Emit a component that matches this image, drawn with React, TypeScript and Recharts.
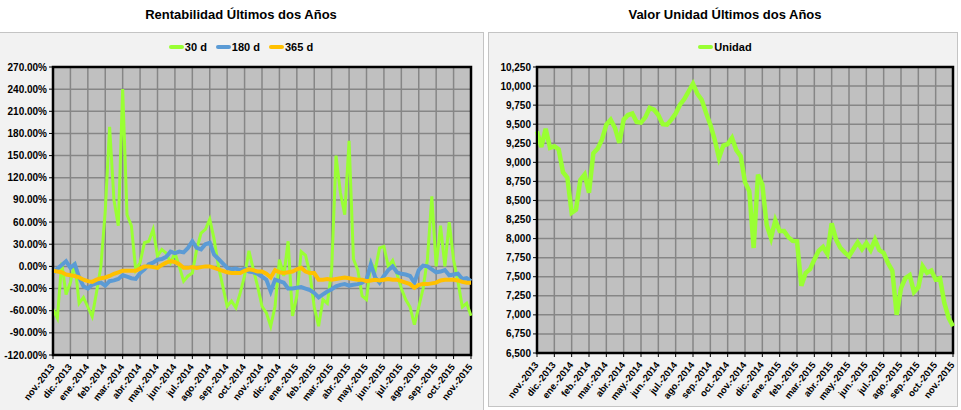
import React from "react";
import {
  LineChart,
  Line,
  XAxis,
  YAxis,
  CartesianGrid,
  ReferenceArea,
} from "recharts";

// ---------- DATA ----------
const monthLabels = [
  "nov.-2013", "dic.-2013", "ene.-2014", "feb.-2014", "mar.-2014", "abr.-2014",
  "may.-2014", "jun.-2014", "jul.-2014", "ago.-2014", "sep.-2014", "oct.-2014",
  "nov.-2014", "dic.-2014", "ene.-2015", "feb.-2015", "mar.-2015", "abr.-2015",
  "may.-2015", "jun.-2015", "jul.-2015", "ago.-2015", "sep.-2015", "oct.-2015",
  "nov.-2015",
];

// samples are taken 4 times per month (weekly), starting nov-2013
const SAMPLES_PER_MONTH = 4;

// Rentabilidad 30 d (%)
const rent30 = [
  -58, -70, 5, -38, -22, 5, -50, -42,
  -55, -68, -35, 0, 75, 189, 90, 55,
  240, 70, 55, -5, 5, 32, 34, 50,
  14, 23, 18, 5, 18, 0, -20, -13,
  -9, 23, 45, 50, 64, 37, 0, -27,
  -54, -47, -56, -36, -13, 21, -4, -27,
  -54, -63, -81, -54, 9, -13, 34, -67,
  -40, 20, 15, -10, -55, -81, -45, -50,
  -5, 150, 100, 70, 170, 10, -5, -40,
  -45, 5, -5, 25, 27, 0, 8, -10,
  -30, -45, -55, -79, -55, -30, 10, 95,
  0, 55, 0, 60, 9, -20, -55, -50,
  -67,
];

// Rentabilidad 180 d (%)
const rent180 = [
  -9, -3, 2, 7, -2, 3, -15, -27,
  -30, -25, -23, -22, -26, -20, -19, -17,
  -12, -14, -16, -17, -9, -4, 3, 5,
  9, 10, 13, 20, 18, 20, 19, 25,
  34, 25, 23, 30, 32, 16, 10, 4,
  -2, -4, -3, -5, -3, -7, -8, -10,
  -14, -18, -34, -18, -20, -22, -30, -30,
  -29, -28, -30, -32, -36, -42, -38, -34,
  -31, -27, -25, -24, -26, -25, -24, -22,
  -18, 3, -15, -22, -13, -5, 0, -8,
  -10, -11, -13, -22, -5, 1, 0, -4,
  -8, -7, -5, -12, -11, -10, -17, -16,
  -20,
];

// Rentabilidad 365 d (%)
const rent365 = [
  -6, -7, -8, -11, -12, -13, -15, -18,
  -20, -21, -18, -16, -15, -13, -10, -8,
  -6, -6, -6, -6, -3, 0, 0, -1,
  -2, 2, 5, 7, 6, 3, -2, -2,
  -1, -2, -1, 0, 0, -2, -4, -6,
  -8, -9, -9, -9, -6, -4, -5, -7,
  -7, -10, -15, -5, -8, -9, -8, -7,
  -4, -2, -7, -9, -9, -18, -18, -17,
  -18, -17, -16, -15, -16, -17, -18, -18,
  -20, -19, -18, -19, -18, -17, -18, -18,
  -20, -22, -24, -29, -25, -24, -24, -23,
  -22, -19, -18, -18, -18, -19, -21, -22,
  -22,
];

// Valor Unidad
const unidad = [
  9407, 9200, 9440, 9190, 9210, 9170, 8870, 8800,
  8340, 8380, 8770, 8840, 8600, 9120, 9180, 9300,
  9494, 9560, 9450, 9254, 9560, 9620, 9640, 9530,
  9520, 9590, 9713, 9690, 9620, 9500, 9494, 9560,
  9640, 9756, 9830, 9930, 10031, 9900, 9820, 9650,
  9494, 9300, 9057, 9220, 9240, 9320, 9160, 9080,
  8740, 8620, 7877, 8838, 8707, 8180, 8008, 8240,
  8100, 8100, 8020, 7970, 7964, 7380, 7550, 7600,
  7724, 7840, 7890, 7800, 8200, 7990, 7880, 7820,
  7768, 7860, 7950, 7860, 7942, 7850, 7986, 7850,
  7811, 7680, 7580, 7000, 7350, 7480, 7520, 7300,
  7360, 7637, 7550, 7580, 7462, 7480, 7156, 6960,
  6850,
];

const rentTicks = [-120, -90, -60, -30, 0, 30, 60, 90, 120, 150, 180, 210, 240, 270];
const unidadTicks = [
  6500, 6750, 7000, 7250, 7500, 7750, 8000, 8250, 8500, 8750, 9000, 9250,
  9500, 9750, 10000, 10250,
];

const rentSeries = [
  { key: "r30", name: "30 d", color: "#99FF33", width: 3, values: rent30 },
  { key: "r180", name: "180 d", color: "#5B9BD5", width: 4, values: rent180 },
  { key: "r365", name: "365 d", color: "#FFC000", width: 4, values: rent365 },
];

const rentData = rent30.map((_, i) => ({
  t: i / SAMPLES_PER_MONTH,
  r30: rent30[i],
  r180: rent180[i],
  r365: rent365[i],
}));

const unidadData = unidad.map((v, i) => ({ t: i / SAMPLES_PER_MONTH, u: v }));

const monthTicks = monthLabels.map((_, i) => i);

// ---------- STYLES ----------
const FONT = "Arial, 'Liberation Sans', sans-serif";
const GRID_FILL = "#C0C0C0";
const GRID_STROKE = "#868686";

const XTick = (props: any) => {
  const { x, y, payload } = props;
  const ax = x + 2;
  const ay = y + 6;
  return (
    <text
      x={ax}
      y={ay}
      transform={`rotate(-52 ${ax} ${ay})`}
      textAnchor="end"
      fontSize={9.5}
      fontWeight="bold"
      fontFamily={FONT}
      fill="#000"
    >
      {monthLabels[payload.value]}
    </text>
  );
};

const YTick = (props: any) => {
  const { x, y, payload, fmt } = props;
  return (
    <text
      x={x}
      y={y}
      dy={3.5}
      textAnchor="end"
      fontSize={10}
      fontWeight="bold"
      fontFamily={FONT}
      fill="#000"
    >
      {fmt(payload.value)}
    </text>
  );
};

const fmtPct = (v: number) => v.toFixed(2) + "%";
const fmtNum = (v: number) => v.toLocaleString("en-US");

const Legend = ({ items, left, width }: { items: { name: string; color: string }[]; left: number; width: number }) => (
  <div
    style={{
      position: "absolute",
      left,
      top: 40,
      width,
      display: "flex",
      justifyContent: "center",
      alignItems: "center",
      gap: 9,
      fontFamily: FONT,
      fontSize: 11,
      fontWeight: "bold",
      height: 14,
    }}
  >
    {items.map((it) => (
      <div key={it.name} style={{ display: "flex", alignItems: "center" }}>
        <div style={{ width: 15, height: 4, background: it.color, borderRadius: 2, marginRight: 1 }} />
        <span>{it.name}</span>
      </div>
    ))}
  </div>
);

export default function App() {
  return (
    <div
      style={{
        position: "absolute",
        left: 0,
        top: 0,
        width: 961,
        height: 410,
        background: "#FFFFFF",
        overflow: "hidden",
        fontFamily: FONT,
      }}
    >
      {/* titles */}
      <div
        style={{
          position: "absolute",
          left: 0,
          top: 7,
          width: 482,
          textAlign: "center",
          fontSize: 13,
          fontWeight: "bold",
          lineHeight: "16px",
        }}
      >
        Rentabilidad Últimos dos Años
      </div>
      <div
        style={{
          position: "absolute",
          left: 489,
          top: 7,
          width: 472,
          textAlign: "center",
          fontSize: 13,
          fontWeight: "bold",
          lineHeight: "16px",
        }}
      >
        Valor Unidad Últimos dos Años
      </div>

      {/* panels */}
      <div
        style={{
          position: "absolute",
          left: -1,
          top: 32,
          width: 485,
          height: 380,
          background: "#F2F2F2",
          border: "1px solid #C4C4C4",
          boxSizing: "border-box",
        }}
      />
      <div
        style={{
          position: "absolute",
          left: 488,
          top: 32,
          width: 470,
          height: 375,
          background: "#F2F2F2",
          border: "1px solid #C4C4C4",
          boxSizing: "border-box",
        }}
      />

      <Legend items={rentSeries} left={0} width={482} />
      <Legend items={[{ name: "Unidad", color: "#99FF33" }]} left={489} width={472} />

      {/* left chart */}
      <div style={{ position: "absolute", left: 0, top: 32 }}>
        <LineChart
          width={482}
          height={378}
          data={rentData}
          margin={{ top: 35, right: 11, left: 0, bottom: 0 }}
        >
          <CartesianGrid stroke={GRID_STROKE} strokeWidth={1.5} fill={GRID_FILL} fillOpacity={1} />
          <XAxis
            dataKey="t"
            type="number"
            domain={[0, 24]}
            ticks={monthTicks}
            interval={0}
            height={55}
            tick={<XTick />}
            tickSize={4}
            tickLine={{ stroke: "#000" }}
            axisLine={{ stroke: "#000", strokeWidth: 2 }}
          />
          <YAxis
            type="number"
            domain={[-120, 270]}
            ticks={rentTicks}
            interval={0}
            width={53}
            tick={<YTick fmt={fmtPct} />}
            tickSize={4}
            tickLine={{ stroke: "#000" }}
            axisLine={{ stroke: "#000", strokeWidth: 2 }}
          />
          {rentSeries.map((s) => (
            <Line
              key={s.key}
              dataKey={s.key}
              name={s.name}
              type="linear"
              stroke={s.color}
              strokeWidth={s.width}
              dot={false}
              isAnimationActive={false}
            />
          ))}
          <ReferenceArea x1={0} x2={24} y1={-120} y2={270} fill="none" stroke="#000" strokeWidth={2.5} />
        </LineChart>
      </div>

      {/* right chart */}
      <div style={{ position: "absolute", left: 480, top: 32 }}>
        <LineChart
          width={481}
          height={378}
          data={unidadData}
          margin={{ top: 35, right: 8, left: 0, bottom: 0 }}
        >
          <CartesianGrid stroke={GRID_STROKE} strokeWidth={1.5} fill={GRID_FILL} fillOpacity={1} />
          <XAxis
            dataKey="t"
            type="number"
            domain={[0, 24]}
            ticks={monthTicks}
            interval={0}
            height={57}
            tick={<XTick />}
            tickSize={4}
            tickLine={{ stroke: "#000" }}
            axisLine={{ stroke: "#000", strokeWidth: 2 }}
          />
          <YAxis
            type="number"
            domain={[6500, 10250]}
            ticks={unidadTicks}
            interval={0}
            width={57}
            tick={<YTick fmt={fmtNum} />}
            tickSize={4}
            tickLine={{ stroke: "#000" }}
            axisLine={{ stroke: "#000", strokeWidth: 2 }}
          />
          <Line
            dataKey="u"
            name="Unidad"
            type="linear"
            stroke="#99FF33"
            strokeWidth={4.5}
            dot={false}
            isAnimationActive={false}
          />
          <ReferenceArea x1={0} x2={24} y1={6500} y2={10250} fill="none" stroke="#000" strokeWidth={2.5} />
        </LineChart>
      </div>
    </div>
  );
}
